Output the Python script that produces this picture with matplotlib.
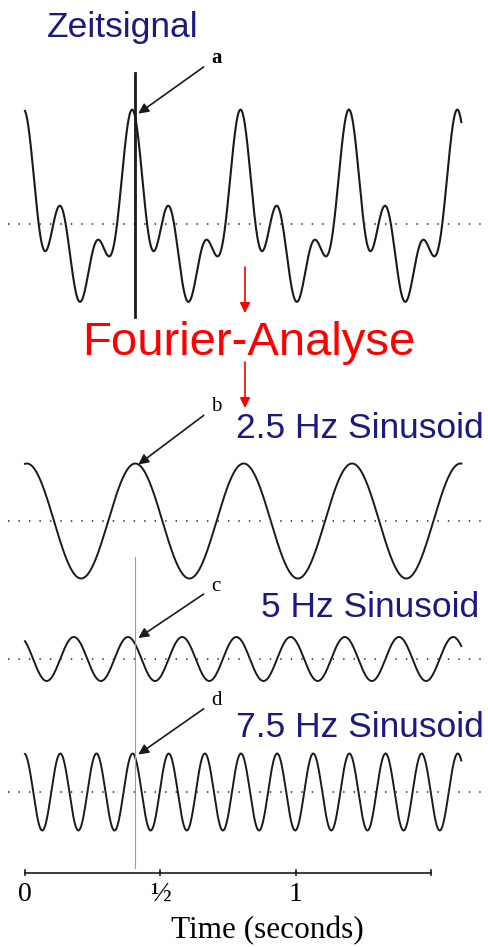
import numpy as np
import matplotlib.pyplot as plt

# === DATA ===
freqs = [2.5, 5.0, 7.5]           # Hz
amps = [57.5, 22.0, 38.5]         # peak amplitude (px units of the figure)
peak_t = [0.407, 0.380, 0.397]    # time of the peak near the marker (s)
t_end = 1.61                      # seconds shown
t_mark = 0.407                    # time of the marked peak
tick_vals = [0, 0.5, 1, 1.5]
tick_labels = ['0', '½', '1', '']
titles = ['2.5 Hz Sinusoid', '5 Hz Sinusoid', '7.5 Hz Sinusoid']
letters = ['b', 'c', 'd']

# === LAYOUT (figure pixels) ===
W, H = 489, 947
X0, PX_PER_S = 25, 271            # t=0 position, pixels per second
base_top = 224
bases = [521, 659, 792]
axis_y = 873
navy = '#1a1a80'
ink = '#1a1a1a'

t = np.linspace(0, t_end, 3000)
comps = [a * np.cos(2 * np.pi * f * (t - p))
         for f, a, p in zip(freqs, amps, peak_t)]
total = np.sum(comps, axis=0)

fig = plt.figure(figsize=(W / 100, H / 100), dpi=100)
ax = fig.add_axes([0, 0, 1, 1])
ax.set_xlim(-X0 / PX_PER_S, (W - X0) / PX_PER_S)
ax.set_ylim(H, 0)
ax.axis('off')

def px(x):
    return (x - X0) / PX_PER_S

def dotted(y):
    ax.plot([px(8), px(483)], [y, y], color='#444444', lw=1.3,
            ls=(0, (0.8, 5)))

arrow_kw = dict(arrowstyle='-|>', color=ink, lw=1.2, mutation_scale=15,
                shrinkA=4, shrinkB=0)

# --- time signal ---
ax.plot(t, base_top - total, color=ink, lw=1.5)
dotted(base_top)
ax.plot([t_mark, t_mark], [73, 317], color=ink, lw=2)
ax.text(px(47), 37, 'Zeitsignal', color=navy, fontsize=25.5,
        family='Liberation Sans', va='baseline', ha='left')
ax.annotate('a', xy=(t_mark + px(28), base_top - total.max() + 4),
            xytext=(px(211), 58), fontsize=15, family='Liberation Serif',
            fontweight='bold', va='center', ha='left', arrowprops=arrow_kw)

# --- Fourier-Analyse with red arrows ---
ax.text(px(82), 355, 'Fourier-Analyse', color='red', fontsize=34,
        family='Liberation Sans', va='baseline', ha='left')
for y0, y1 in [(267, 313), (362, 408)]:
    ax.annotate('', xy=(px(245), y1), xytext=(px(245), y0),
                arrowprops=dict(arrowstyle='-|>', color='red', lw=1.2,
                                mutation_scale=15, shrinkA=0, shrinkB=0))

# --- components ---
title_base = [438, 617, 737]
title_x = [484, 479, 484]
letter_y = [406, 586, 700]
for comp, b, ttl, tx, ty, let, ly, a in zip(comps, bases, titles, title_x,
                                           title_base, letters, letter_y,
                                           amps):
    ax.plot(t, b - comp, color=ink, lw=1.4)
    dotted(b)
    ax.text(px(tx), ty, ttl, color=navy, fontsize=25.5,
            family='Liberation Sans', va='baseline', ha='right')
    ax.annotate(let, xy=(t_mark + px(28), b - a + 1), xytext=(px(211), ly),
                fontsize=15, family='Liberation Serif', va='center',
                ha='left', arrowprops=arrow_kw)

# thin marker line through the lower sinusoids
ax.plot([t_mark, t_mark], [557, 868], color='#9a9a9a', lw=0.8)

# --- time axis ---
ax.plot([tick_vals[0], tick_vals[-1]], [axis_y, axis_y], color=ink, lw=1.2)
for tv, tl in zip(tick_vals, tick_labels):
    ax.plot([tv, tv], [axis_y - 3, axis_y + 2], color=ink, lw=1.2)
    ax.text(tv, 894, tl, fontsize=20, family='Liberation Serif',
            ha='center', va='center')
ax.text(px(267), 931, 'Time (seconds)', fontsize=22.5,
        family='Liberation Serif', ha='center', va='center')

fig.savefig('out.png', dpi=100)
